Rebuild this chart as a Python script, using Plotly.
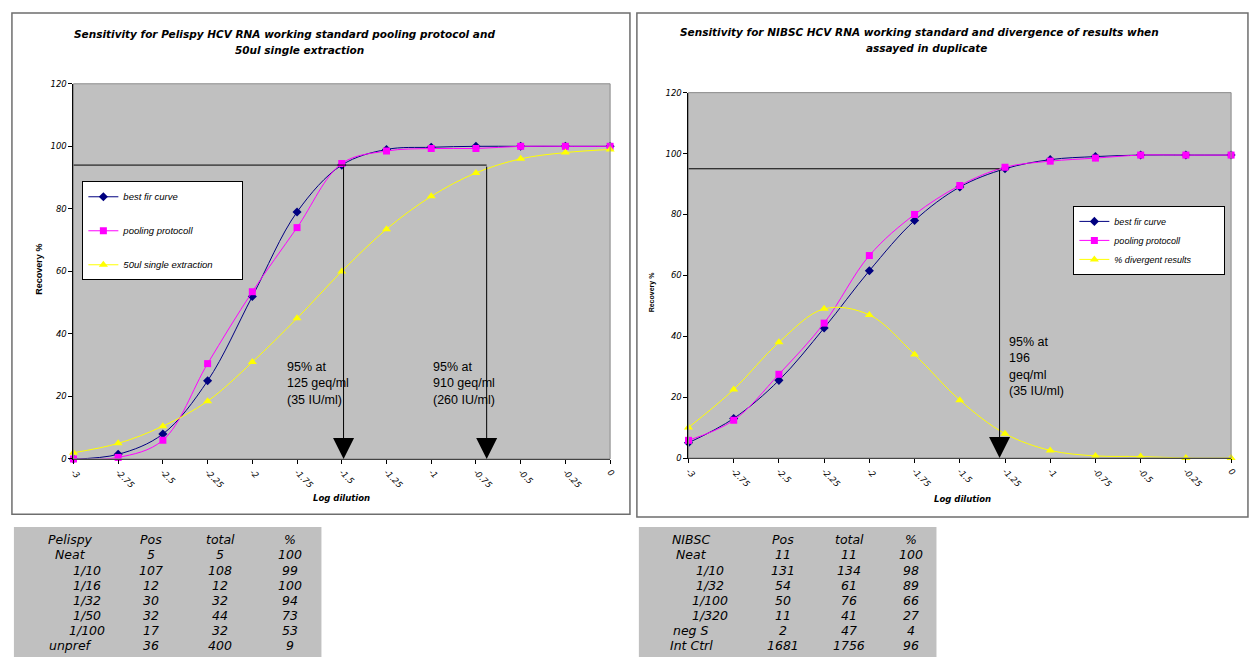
import plotly.graph_objects as go

W, H = 1249, 658

# ---------------- data ----------------
log_dilution = [-3, -2.75, -2.5, -2.25, -2, -1.75, -1.5, -1.25, -1, -0.75, -0.5, -0.25, 0]
tick_labels = ["-3", "-2.75", "-2.5", "-2.25", "-2", "-1.75", "-1.5", "-1.25", "-1", "-0.75", "-0.5", "-0.25", "0"]
y_ticks = [0, 20, 40, 60, 80, 100, 120]

pelispy_best_fit = [0, 1.5, 8, 25, 52, 79, 94, 99, 99.7, 100, 100, 100, 100]
pelispy_pooling = [0, 0.5, 6, 30.5, 53.5, 74, 94.5, 98.5, 99.3, 99.3, 100, 100, 100]
pelispy_single = [2, 5, 10.5, 18.5, 31, 45, 60, 73.5, 84, 91.5, 96, 98, 99]

nibsc_best_fit = [5, 13, 25.5, 42.7, 61.5, 78, 89, 95, 98, 99, 99.5, 99.5, 99.5]
nibsc_pooling = [5.8, 12.4, 27.5, 44.3, 66.5, 80, 89.5, 95.5, 97.5, 98.5, 99.5, 99.5, 99.5]
nibsc_divergent = [10, 22.5, 38, 49, 47, 34, 19, 8, 2.5, 0.7, 0.5, 0, 0]

pelispy_95_level = 94
pelispy_95_cutoffs = [-1.49, -0.69]
pelispy_95_labels = ["95% at<br>125 geq/ml<br>(35 IU/ml)", "95% at<br>910 geq/ml<br>(260 IU/ml)"]
pelispy_95_label_x = [-1.82, -1.0]
label_top = 32.4

nibsc_95_level = 95
nibsc_95_cutoff = -1.28
nibsc_95_label = "95% at<br>196<br>geq/ml<br>(35 IU/ml)"
nibsc_label_x = -1.24
nibsc_label_top = 41.2

left_title = ["Sensitivity for Pelispy HCV RNA working standard pooling protocol and",
              "50ul single extraction"]
right_title = ["Sensitivity for NIBSC HCV RNA working standard and divergence of results when",
               "assayed in duplicate"]

left_legend_names = ["best fir curve", "pooling protocoll", "50ul single extraction"]
right_legend_names = ["best fir curve", "pooling protocoll", "% divergent results"]

pelispy_header = ["Pelispy", "Pos", "total", "%"]
pelispy_names = ["Neat", "1/10", "1/16", "1/32", "1/50", "1/100", "unpref"]
pelispy_pos = [5, 107, 12, 30, 32, 17, 36]
pelispy_total = [5, 108, 12, 32, 44, 32, 400]
pelispy_pct = [100, 99, 100, 94, 73, 53, 9]

nibsc_header = ["NIBSC", "Pos", "total", "%"]
nibsc_names = ["Neat", "1/10", "1/32", "1/100", "1/320", "neg S", "Int Ctrl"]
nibsc_pos = [11, 131, 54, 50, 11, 2, 1681]
nibsc_total = [11, 134, 61, 76, 41, 47, 1756]
nibsc_pct = [100, 98, 89, 66, 27, 4, 96]

# ---------------- helpers ----------------
def px(x):
    return x / W


def py(y):
    return 1 - y / H


NAVY, MAGENTA, YELLOW = "#000080", "#FF00FF", "#FFFF00"
WEIRD = "DejaVu Sans"
ARIAL = "Liberation Sans, Arial"
NBSP = "\u00a0"

fig = go.Figure()

def add_series(x, y, name, color, symbol, size, xa, ya, legend, group):
    fig.add_trace(go.Scatter(
        x=x, y=y, name=name, mode="lines+markers",
        line=dict(color=color, width=1, shape="spline", smoothing=1),
        marker=dict(color=color, symbol=symbol, size=size),
        xaxis=xa, yaxis=ya, legend=legend, legendgroup=group, cliponaxis=False,
    ))

# pad the longest legend entry so the legend box is as wide as in the original
lpad = [n + (NBSP * 9 if n == max(left_legend_names, key=len) else "") for n in left_legend_names]
rpad = [n + (NBSP * 11 if n == max(right_legend_names, key=len) else "") for n in right_legend_names]

add_series(log_dilution, pelispy_best_fit, lpad[0], NAVY, "diamond", 7, "x", "y", "legend", "a1")
add_series(log_dilution, pelispy_pooling, lpad[1], MAGENTA, "square", 7, "x", "y", "legend", "a2")
add_series(log_dilution, pelispy_single, lpad[2], YELLOW, "triangle-up", 8, "x", "y", "legend", "a3")

add_series(log_dilution, nibsc_best_fit, rpad[0], NAVY, "diamond", 7, "x2", "y2", "legend2", "b1")
add_series(log_dilution, nibsc_pooling, rpad[1], MAGENTA, "square", 7, "x2", "y2", "legend2", "b2")
add_series(log_dilution, nibsc_divergent, rpad[2], YELLOW, "triangle-up", 8, "x2", "y2", "legend2", "b3")

tickfont = dict(family=WEIRD, size=8.5, style="italic", color="black")
xcommon = dict(range=[-3, 0], tickvals=log_dilution, ticktext=tick_labels, tickangle=45,
               ticks="outside", ticklen=4, tickcolor="black", showline=True, linecolor="black",
               linewidth=1, showgrid=False, zeroline=False, tickfont=tickfont)
ycommon = dict(range=[0, 120], tickvals=y_ticks, ticks="outside", ticklen=4, tickcolor="black",
               showline=True, linecolor="black", linewidth=1, showgrid=False, zeroline=False,
               tickfont=tickfont)

shapes = []
annotations = []

# panel frames
shapes.append(dict(type="rect", xref="paper", yref="paper", x0=px(8), x1=px(631), y0=py(517), y1=py(8),
                   line=dict(color="#6e6e6e", width=1.5), layer="below"))
shapes.append(dict(type="rect", xref="paper", yref="paper", x0=px(638), x1=px(1254), y0=py(520), y1=py(8),
                   line=dict(color="#6e6e6e", width=1.5), layer="below"))
# plot-area borders
for xa, ya in (("x", "y"), ("x2", "y2")):
    shapes.append(dict(type="rect", xref=xa + " domain", yref=ya + " domain", x0=0, x1=1, y0=0, y1=1,
                       line=dict(color="#8a8a8a", width=1)))

# 95 % reference lines
shapes.append(dict(type="line", xref="x", yref="y", x0=-3, x1=max(pelispy_95_cutoffs),
                   y0=pelispy_95_level, y1=pelispy_95_level, line=dict(color="black", width=1)))
shapes.append(dict(type="line", xref="x2", yref="y2", x0=-3, x1=nibsc_95_cutoff,
                   y0=nibsc_95_level, y1=nibsc_95_level, line=dict(color="black", width=1)))

def arrow(x, level, xa, ya):
    return dict(x=x, y=0, ax=x, ay=level, xref=xa, yref=ya, axref=xa, ayref=ya, text="",
                showarrow=True, arrowhead=2, arrowsize=4.2, arrowwidth=1, arrowcolor="black")

for c in pelispy_95_cutoffs:
    annotations.append(arrow(c, pelispy_95_level, "x", "y"))
annotations.append(arrow(nibsc_95_cutoff, nibsc_95_level, "x2", "y2"))

labfont = dict(family=ARIAL, size=12.5, color="black")
for lx, lt in zip(pelispy_95_label_x, pelispy_95_labels):
    annotations.append(dict(x=lx, y=label_top, xref="x", yref="y", text=lt, showarrow=False,
                            xanchor="left", yanchor="top", align="left", font=labfont))
annotations.append(dict(x=nibsc_label_x, y=nibsc_label_top, xref="x2", yref="y2", text=nibsc_95_label,
                        showarrow=False, xanchor="left", yanchor="top", align="left", font=labfont))

def paper_text(x, y, text, font, angle=0):
    annotations.append(dict(x=px(x), y=py(y), xref="paper", yref="paper", text=text, showarrow=False,
                            xanchor="center", yanchor="middle", textangle=angle, font=font))

# titles
titlefont = dict(family=WEIRD, size=10.5, style="italic", weight="bold", color="black")
for xx, yy, t in zip([283, 298], [29, 46], left_title):
    paper_text(xx, yy, t, titlefont)
for xx, yy, t in zip([923, 930], [27, 44], right_title):
    paper_text(xx, yy, t, titlefont)

# axis titles
axfont = dict(family=WEIRD, size=8.5, style="italic", weight="bold", color="black")
paper_text(340, 501, "Log dilution", axfont)
paper_text(966, 502, "Log dilution", axfont)
paper_text(35, 268, "<b>Recovery %</b>", dict(family=ARIAL, size=9, color="black"), -90)
paper_text(653, 292, "<b>Recovery %</b>", dict(family=ARIAL, size=7, color="black"), -90)

# tables
shapes.append(dict(type="rect", xref="paper", yref="paper", x0=px(10), x1=px(320), y0=py(662), y1=py(530),
                   fillcolor="#C0C0C0", line=dict(width=0), layer="below"))
shapes.append(dict(type="rect", xref="paper", yref="paper", x0=px(640), x1=px(940), y0=py(662), y1=py(530),
                   fillcolor="#C0C0C0", line=dict(width=0), layer="below"))

tabfont = dict(family=WEIRD, size=12.5, style="italic", color="black")

def add_table(header, names, pos, total, pct, name_x_plain, name_x_dil, col_x, row0, step):
    rows = [header] + [[n, str(p), str(t), str(q)] for n, p, t, q in zip(names, pos, total, pct)]
    for r, row in enumerate(rows):
        yy = row0 + step * r
        for c, val in enumerate(row):
            if c == 0:
                xx = name_x_dil if "/" in val else name_x_plain
            else:
                xx = col_x[c - 1]
            paper_text(xx, yy, val, tabfont)

add_table(pelispy_header, pelispy_names, pelispy_pos, pelispy_total, pelispy_pct, 67, 84, [148, 218, 288], 543, 15.4)
add_table(nibsc_header, nibsc_names, nibsc_pos, nibsc_total, nibsc_pct, 693, 712, [785, 852, 914], 543, 15.4)

fig.update_layout(
    width=W, height=H, autosize=False,
    margin=dict(l=0, r=0, t=0, b=0, pad=0),
    paper_bgcolor="white", plot_bgcolor="#C0C0C0",
    xaxis=dict(domain=[px(70), px(611)], anchor="y", **xcommon),
    yaxis=dict(domain=[py(461), py(80)], anchor="x", **ycommon),
    xaxis2=dict(domain=[px(690), px(1237)], anchor="y2", **xcommon),
    yaxis2=dict(domain=[py(460), py(89)], anchor="x2", **ycommon),
    legend=dict(x=px(79), y=py(179), xanchor="left", yanchor="top", bgcolor="white",
                bordercolor="black", borderwidth=1, tracegroupgap=15,
                font=dict(family=ARIAL, size=9.5, style="italic", color="black")),
    legend2=dict(x=px(1078), y=py(204), xanchor="left", yanchor="top", bgcolor="white",
                 bordercolor="black", borderwidth=1, tracegroupgap=0,
                 font=dict(family=ARIAL, size=9, style="italic", color="black")),
    shapes=shapes, annotations=annotations, showlegend=True,
)

fig.write_html("out.html", config={"displayModeBar": False},
               post_script="document.body.style.margin='0';document.body.style.overflow='hidden';")
